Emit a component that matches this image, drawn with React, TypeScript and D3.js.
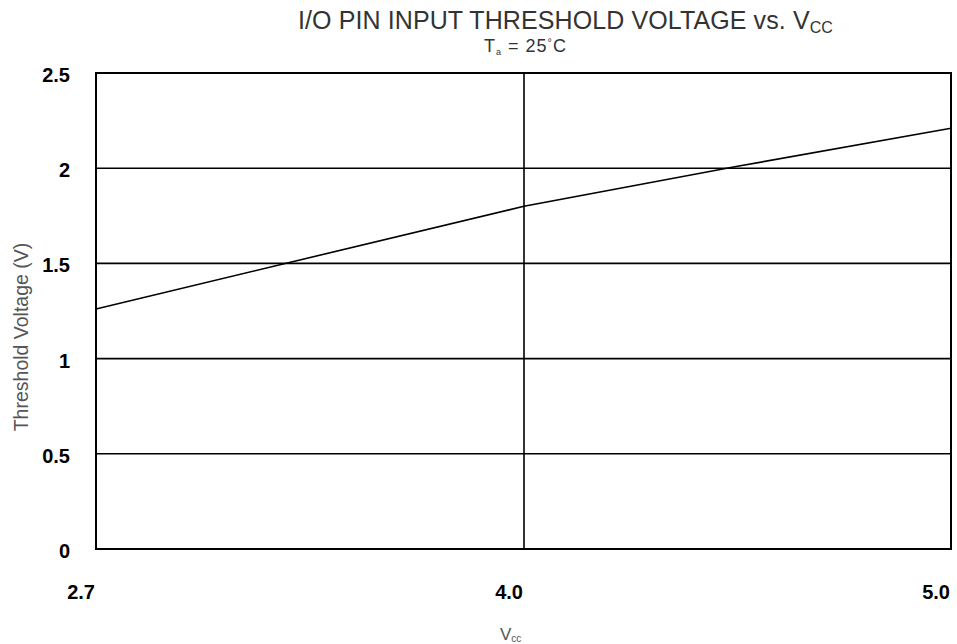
import React from "react";
import * as d3 from "d3";

const vccValues = [2.7, 3.3, 4.0, 4.5, 5.0];
const thresholdValues = [1.26, 1.51, 1.8, 2.01, 2.21];
const xTicks = [2.7, 4.0, 5.0];
const xTickLabels = ["2.7", "4.0", "5.0"];
const yTicks = [0, 0.5, 1, 1.5, 2, 2.5];
const yTickLabels = ["0", "0.5", "1", "1.5", "2", "2.5"];

const W = 957;
const H = 644;
const L = 96;
const R = 951;
const T = 73;
const B = 549;

export default function App() {
  const x = d3.scaleLinear().domain([2.7, 4.0, 5.0]).range([L, (L + R) / 2 + 0.5, R]);
  const y = d3.scaleLinear().domain([0, 2.5]).range([B, T]);
  const pts = vccValues.map((v, i) => [v, thresholdValues[i]] as [number, number]);
  const line = d3
    .line<[number, number]>()
    .x((d) => x(d[0]))
    .y((d) => y(d[1]));
  const font = "'Liberation Sans', Arial, Helvetica, sans-serif";
  return (
    <div style={{ position: "absolute", left: 0, top: 0 }}>
      <svg width={W} height={H} style={{ display: "block", background: "#fff" }}>
        <text x={298} y={29} fontFamily={font} fontSize={25} fill="#333" letterSpacing={0.1}>
          I/O PIN INPUT THRESHOLD VOLTAGE vs. V
          <tspan fontSize={16} dy={4}>CC</tspan>
        </text>
        <text x={484} y={52} fontFamily={font} fontSize={18} fill="#333" letterSpacing={1}>
          T<tspan fontSize={9} dy={3}>a</tspan>
          <tspan dy={-3}> = 25</tspan>
          <tspan fontSize={11} dy={-6}>°</tspan>
          <tspan dy={6}>C</tspan>
        </text>
        {yTicks
          .filter((t) => t > 0 && t < 2.5)
          .map((t) => (
            <line key={"h" + t} x1={L} x2={R} y1={y(t)} y2={y(t)} stroke="#000" strokeWidth={1.6} />
          ))}
        {xTicks
          .filter((t, i) => i > 0 && i < xTicks.length - 1)
          .map((t) => (
            <line key={"v" + t} x1={x(t)} x2={x(t)} y1={T} y2={B} stroke="#000" strokeWidth={1.6} />
          ))}
        <rect x={L} y={T} width={R - L} height={B - T} fill="none" stroke="#000" strokeWidth={2} />
        <path d={line(pts) || ""} fill="none" stroke="#000" strokeWidth={1.6} />
        {yTicks.map((t, i) => (
          <text
            key={"yl" + t}
            x={70}
            y={y(t) + 9}
            textAnchor="end"
            fontFamily={font}
            fontWeight="bold"
            fontSize={20}
            fill="#000"
          >
            {yTickLabels[i]}
          </text>
        ))}
        {xTicks.map((t, i) => (
          <text
            key={"xl" + t}
            x={x(t) - 1}
            y={599}
            textAnchor="end"
            fontFamily={font}
            fontWeight="bold"
            fontSize={20}
            fill="#000"
          >
            {xTickLabels[i]}
          </text>
        ))}
        <text x={500} y={640} fontFamily={font} fontSize={17} fill="#555">
          V<tspan fontSize={10} dy={2}>cc</tspan>
        </text>
        <text
          transform="translate(28,337) rotate(-90)"
          textAnchor="middle"
          fontFamily={font}
          fontSize={19.5}
          fill="#555"
        >
          Threshold Voltage (V)
        </text>
      </svg>
    </div>
  );
}
